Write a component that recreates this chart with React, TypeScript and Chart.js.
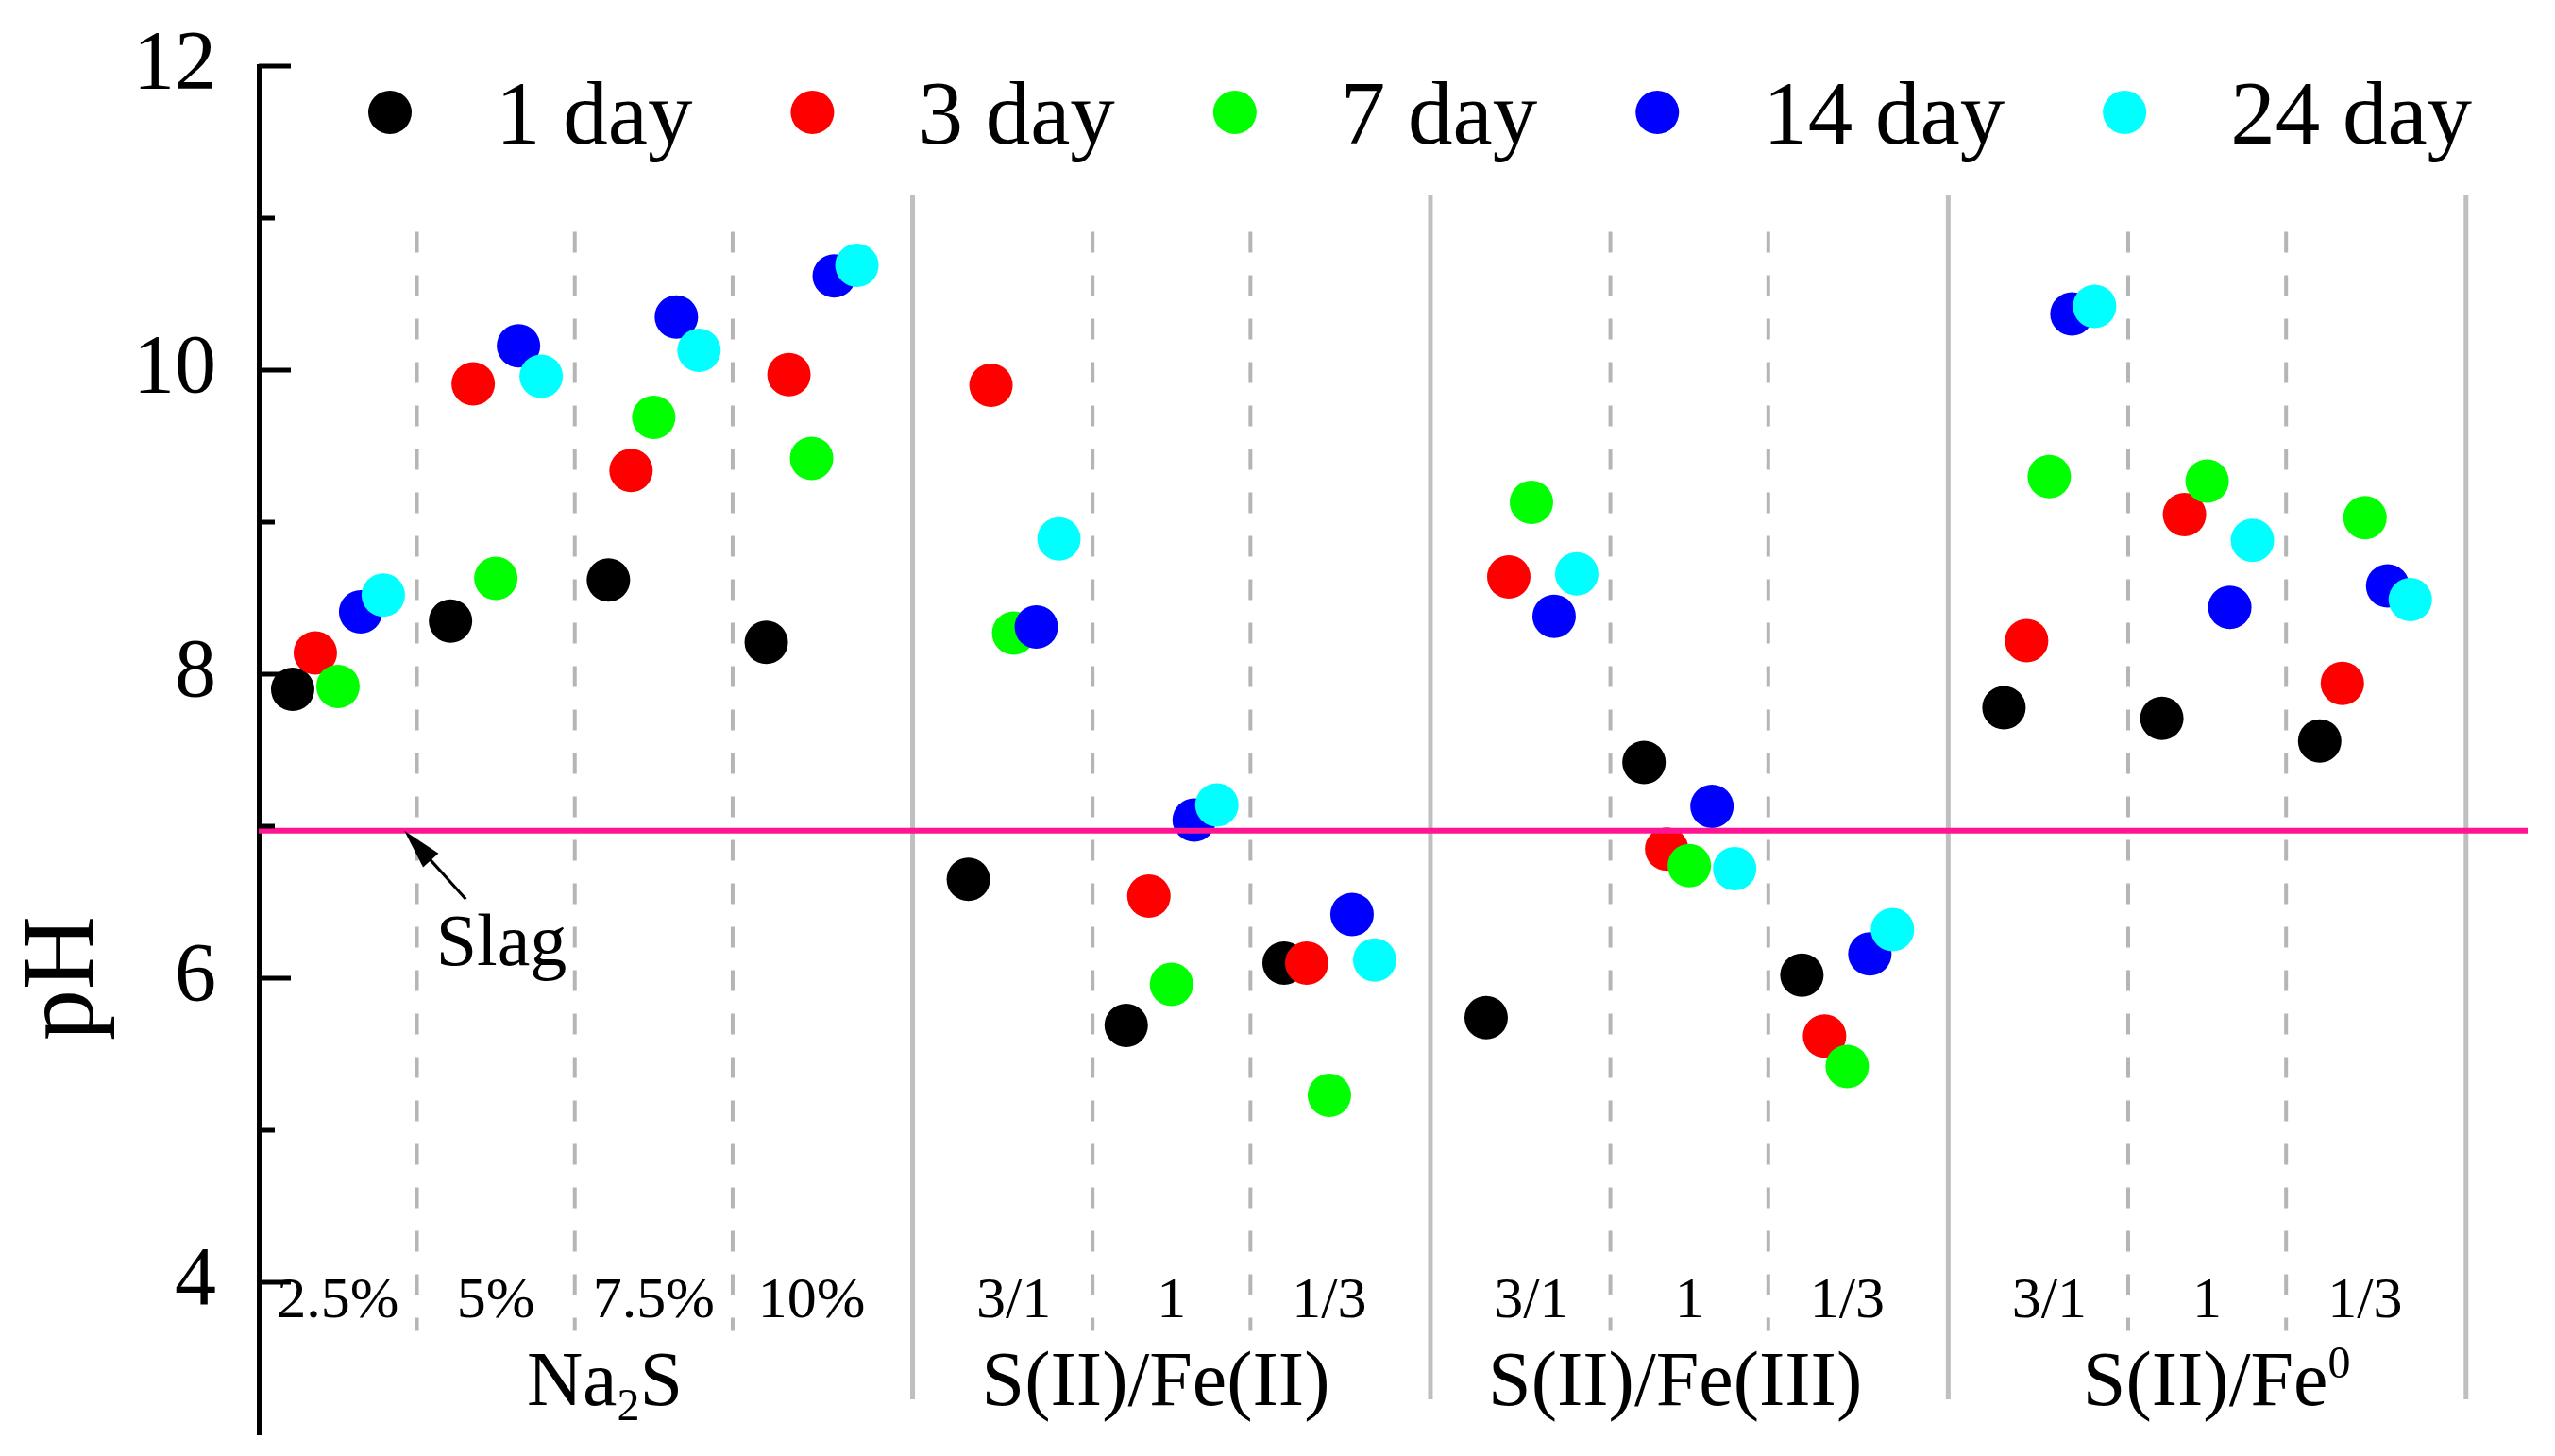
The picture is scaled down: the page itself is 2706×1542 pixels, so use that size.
import { useEffect, useRef } from "react";
import { Chart, registerables } from "chart.js";

Chart.register(...registerables);

const FONT = '"Liberation Serif", "Times New Roman", serif';

// sample groups and their sub-categories
const groupNames = ["Na2S", "S(II)/Fe(II)", "S(II)/Fe(III)", "S(II)/Fe0"];
const subLabels = [
  ["2.5%", "5%", "7.5%", "10%"],
  ["3/1", "1", "1/3"],
  ["3/1", "1", "1/3"],
  ["3/1", "1", "1/3"],
];

const dayLabels = ["1 day", "3 day", "7 day", "14 day", "24 day"];
const dayColors = ["#000000", "#ff0000", "#00ff00", "#0000ff", "#00ffff"];

// pH of each sub-category (subLabels flattened), one array per curing time
const ph1 = [7.9, 8.35, 8.62, 8.21, 6.65, 5.69, 6.1, 5.74, 7.42, 6.02, 7.78, 7.71, 7.56];
const ph3 = [8.14, 9.91, 9.34, 9.97, 9.9, 6.54, 6.1, 8.64, 6.85, 5.62, 8.22, 9.05, 7.94];
const ph7 = [7.92, 8.63, 9.69, 9.42, 8.27, 5.96, 5.23, 9.13, 6.74, 5.42, 9.3, 9.27, 9.03];
const ph14 = [8.41, 10.16, 10.35, 10.62, 8.31, 7.04, 6.42, 8.38, 7.13, 6.16, 10.37, 8.44, 8.58];
const ph24 = [8.52, 9.96, 10.13, 10.69, 8.89, 7.14, 6.12, 8.66, 6.72, 6.32, 10.42, 8.88, 8.49];
const phByDay = [ph1, ph3, ph7, ph14, ph24];

const slagPH = 6.97;
const majorTicks = [4, 6, 8, 10, 12];
const minorTicks = [5, 7, 9, 11];

// group label pieces: 0 = normal, -1 = subscript, 1 = superscript
const groupLabelParts: [string, number][][] = [
  [["Na", 0], ["2", -1], ["S", 0]],
  [["S(II)/Fe(II)", 0]],
  [["S(II)/Fe(III)", 0]],
  [["S(II)/Fe", 0], ["0", 1]],
];
// small nudges of the group labels off their group centre (x units)
const groupLabelShift = [0.19, -0.1, -0.09, 0.06];

// x positions, in sub-category widths
const groupGap = 1.28;
const dayStep = 0.1435;
const subCenters: number[] = [];
const groupRanges: [number, number][] = [];
let pos = 0;
subLabels.forEach((subs) => {
  const start = pos;
  subs.forEach(() => {
    subCenters.push(pos);
    pos += 1;
  });
  groupRanges.push([start, pos - 1]);
  pos += groupGap - 1;
});
const solidLines = groupRanges.map((r) => r[1] + groupGap / 2);
const dashedLines: number[] = [];
groupRanges.forEach(([a, b]) => {
  for (let c = a; c < b; c++) dashedLines.push(c + 0.5);
});
const flatSubLabels = subLabels.flat();

const phPlugin = {
  id: "phDecor",
  beforeDatasetsDraw(chart: any) {
    const { ctx } = chart;
    const x = chart.scales.x;
    const y = chart.scales.y;
    ctx.save();
    ctx.strokeStyle = "#b5b5b5";
    ctx.lineWidth = 4;
    ctx.setLineDash([22, 24]);
    dashedLines.forEach((v) => {
      const px = x.getPixelForValue(v);
      ctx.beginPath();
      ctx.moveTo(px, y.getPixelForValue(10.91));
      ctx.lineTo(px, y.getPixelForValue(3.68));
      ctx.stroke();
    });
    ctx.setLineDash([]);
    ctx.strokeStyle = "#bfbfbf";
    ctx.lineWidth = 5;
    solidLines.forEach((v) => {
      const px = x.getPixelForValue(v);
      ctx.beginPath();
      ctx.moveTo(px, y.getPixelForValue(11.15));
      ctx.lineTo(px, y.getPixelForValue(3.23));
      ctx.stroke();
    });
    ctx.restore();
  },
  afterDatasetsDraw(chart: any) {
    const { ctx, chartArea: area } = chart;
    const x = chart.scales.x;
    const y = chart.scales.y;
    ctx.save();

    // slag reference line
    const sy = y.getPixelForValue(slagPH);
    ctx.strokeStyle = "#ff1493";
    ctx.lineWidth = 6;
    ctx.beginPath();
    ctx.moveTo(area.left, sy);
    ctx.lineTo(area.right, sy);
    ctx.stroke();

    // inward ticks
    ctx.strokeStyle = "#000";
    ctx.lineWidth = 5;
    majorTicks.forEach((v) => {
      const py = y.getPixelForValue(v);
      ctx.beginPath();
      ctx.moveTo(area.left, py);
      ctx.lineTo(area.left + 34, py);
      ctx.stroke();
    });
    minorTicks.forEach((v) => {
      const py = y.getPixelForValue(v);
      ctx.beginPath();
      ctx.moveTo(area.left, py);
      ctx.lineTo(area.left + 17, py);
      ctx.stroke();
    });

    // "Slag" arrow
    const tipX = x.getPixelForValue(0.42);
    const tipY = sy;
    const tailX = x.getPixelForValue(0.81);
    const tailY = y.getPixelForValue(6.52);
    const ang = Math.atan2(tipY - tailY, tipX - tailX);
    ctx.lineWidth = 3;
    ctx.beginPath();
    ctx.moveTo(tailX, tailY);
    ctx.lineTo(tipX - 30 * Math.cos(ang), tipY - 30 * Math.sin(ang));
    ctx.stroke();
    ctx.fillStyle = "#000";
    ctx.beginPath();
    ctx.moveTo(tipX, tipY);
    ctx.lineTo(tipX - 42 * Math.cos(ang) + 11 * Math.sin(ang), tipY - 42 * Math.sin(ang) - 11 * Math.cos(ang));
    ctx.lineTo(tipX - 42 * Math.cos(ang) - 11 * Math.sin(ang), tipY - 42 * Math.sin(ang) + 11 * Math.cos(ang));
    ctx.closePath();
    ctx.fill();
    ctx.font = `78px ${FONT}`;
    ctx.textAlign = "center";
    ctx.textBaseline = "alphabetic";
    ctx.fillText("Slag", x.getPixelForValue(1.035), y.getPixelForValue(6.09));

    // sub-category labels
    ctx.font = `62px ${FONT}`;
    flatSubLabels.forEach((lab, i) => {
      ctx.fillText(lab, x.getPixelForValue(subCenters[i]), y.getPixelForValue(3.77));
    });

    // group labels with sub/superscripts
    const gy = y.getPixelForValue(3.19);
    groupLabelParts.forEach((parts, g) => {
      const fontFor = (k: number) => `${k === 0 ? 82 : 48}px ${FONT}`;
      let total = 0;
      parts.forEach(([t, k]) => {
        ctx.font = fontFor(k);
        total += ctx.measureText(t).width;
      });
      const [a, b] = groupRanges[g];
      let gx = x.getPixelForValue((a + b) / 2 + groupLabelShift[g]) - total / 2;
      ctx.textAlign = "left";
      parts.forEach(([t, k]) => {
        ctx.font = fontFor(k);
        const off = k === -1 ? 16 : k === 1 ? -29 : 0;
        ctx.fillText(t, gx, gy + off);
        gx += ctx.measureText(t).width;
      });
    });

    // legend
    ctx.font = `95px ${FONT}`;
    ctx.textAlign = "left";
    let mx = area.left + 139;
    const my = area.top + 49;
    dayLabels.forEach((lab, d) => {
      ctx.fillStyle = dayColors[d];
      ctx.beginPath();
      ctx.arc(mx, my, 23, 0, Math.PI * 2);
      ctx.fill();
      ctx.fillStyle = "#000";
      const tx = mx + 112;
      ctx.fillText(lab, tx, area.top + 82);
      mx = tx + ctx.measureText(lab).width + 127;
    });

    // y axis title
    ctx.translate(98, y.getPixelForValue(6.0));
    ctx.rotate(-Math.PI / 2);
    ctx.font = `108px ${FONT}`;
    ctx.textAlign = "center";
    ctx.fillText("pH", 0, 0);

    ctx.restore();
  },
};

export default function App() {
  const canvasRef = useRef<HTMLCanvasElement>(null);

  useEffect(() => {
    document.body.style.margin = "0";
    document.body.style.overflow = "hidden";
    const ctx = canvasRef.current?.getContext("2d");
    if (!ctx) return;

    const chart = new Chart(ctx, {
      type: "scatter",
      data: {
        datasets: dayLabels.map((label, d) => ({
          label,
          data: subCenters.map((c, i) => ({ x: c + (d - 2) * dayStep, y: phByDay[d][i] })),
          backgroundColor: dayColors[d],
          borderWidth: 0,
          pointRadius: 23,
          pointHoverRadius: 23,
          order: dayLabels.length - d,
        })),
      },
      options: {
        responsive: true,
        maintainAspectRatio: false,
        animation: false,
        devicePixelRatio: 1,
        events: [],
        layout: { padding: { top: 70, bottom: 18, right: 29, left: 0 } },
        plugins: {
          legend: { display: false },
          tooltip: { enabled: false },
        },
        scales: {
          x: {
            type: "linear",
            min: -0.502,
            max: 13.87,
            display: false,
          },
          y: {
            type: "linear",
            position: "left",
            min: 3,
            max: 12,
            afterBuildTicks: (s: any) => {
              s.ticks = majorTicks.map((v) => ({ value: v }));
            },
            afterFit: (s: any) => {
              s.width = 274;
              s.paddingTop = 0;
              s.paddingBottom = 0;
            },
            grid: { display: false, drawTicks: false },
            border: { display: true, color: "#000", width: 5 },
            ticks: {
              color: "#000",
              padding: 45,
              font: { family: FONT, size: 88 },
            },
          },
        },
      },
      plugins: [phPlugin],
    });

    return () => chart.destroy();
  }, []);

  return (
    <div style={{ width: 2706, height: 1542, position: "relative", background: "#fff" }}>
      <canvas ref={canvasRef} />
    </div>
  );
}
